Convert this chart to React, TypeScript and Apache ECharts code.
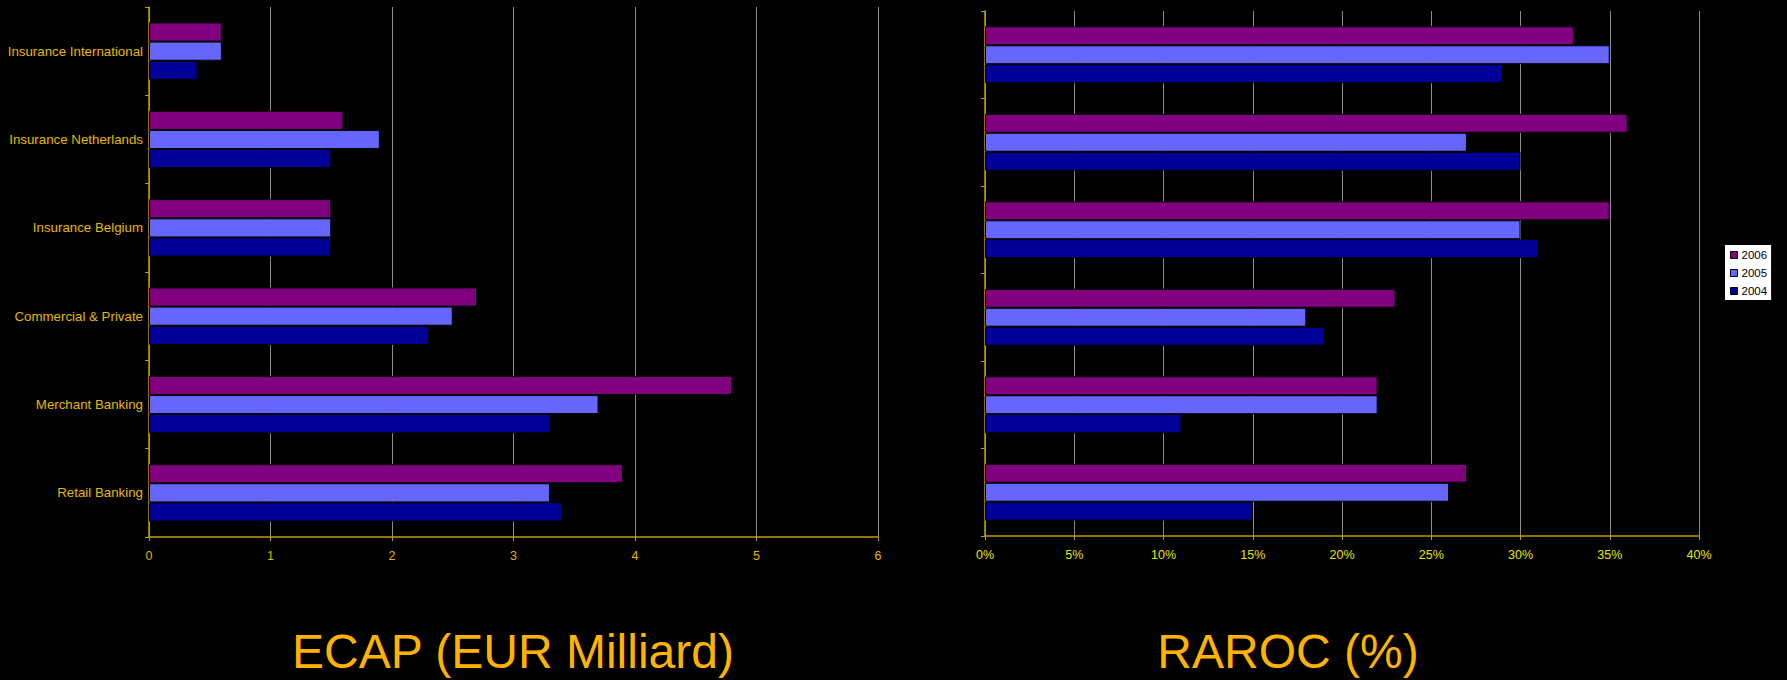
import React, { useEffect, useRef } from "react";
import * as echarts from "echarts";

const categories = [
  "Retail Banking",
  "Merchant Banking",
  "Commercial & Private",
  "Insurance Belgium",
  "Insurance Netherlands",
  "Insurance International",
];
const years = ["2006", "2005", "2004"];
const ecap2006 = [3.9, 4.8, 2.7, 1.5, 1.6, 0.6];
const ecap2005 = [3.3, 3.7, 2.5, 1.5, 1.9, 0.6];
const ecap2004 = [3.4, 3.3, 2.3, 1.5, 1.5, 0.4];
const raroc2006 = [27, 22, 23, 35, 36, 33];
const raroc2005 = [26, 22, 18, 30, 27, 35];
const raroc2004 = [15, 11, 19, 31, 30, 29];
const ecapTicks = { min: 0, max: 6, interval: 1 };
const rarocTicks = { min: 0, max: 40, interval: 5 };
const titles = ["ECAP (EUR Milliard)", "RAROC (%)"];

const colors: Record<string, string> = {
  "2006": "#800080",
  "2005": "#6666FF",
  "2004": "#000099",
};

const FONT = "'Liberation Sans', Arial, sans-serif";
const GOLD_AXIS = "#C09A08";

export default function App() {
  const ref = useRef<HTMLDivElement>(null);

  useEffect(() => {
    document.body.style.margin = "0";
    document.body.style.background = "#000";
    if (!ref.current) return;
    const chart = echarts.init(ref.current, null, { renderer: "svg" });

    const mkSeries = (name: string, data: number[], axisIdx: number) => ({
      name,
      type: "bar",
      xAxisIndex: axisIdx,
      yAxisIndex: axisIdx,
      data,
      barCategoryGap: "35%",
      barGap: "0%",
      itemStyle: { color: colors[name], borderColor: "#000", borderWidth: 1 },
    });

    const valueAxis = (idx: number, ticks: any, labelColor: string, fmt: any) => ({
      type: "value",
      gridIndex: idx,
      min: ticks.min,
      max: ticks.max,
      interval: ticks.interval,
      axisLine: { show: true, lineStyle: { color: GOLD_AXIS, width: 1.5 } },
      axisTick: { show: true, length: 4, lineStyle: { color: GOLD_AXIS } },
      axisLabel: {
        color: labelColor,
        fontSize: 12.5,
        fontFamily: FONT,
        margin: 12,
        formatter: fmt,
      },
      splitLine: { show: true, lineStyle: { color: "#8a8a8a", width: 1 } },
    });

    const catAxis = (idx: number, showLabel: boolean) => ({
      type: "category",
      gridIndex: idx,
      data: categories,
      axisLine: { show: true, lineStyle: { color: GOLD_AXIS, width: 1.5 } },
      axisTick: { show: true, length: 4, lineStyle: { color: GOLD_AXIS } },
      axisLabel: {
        show: showLabel,
        color: "#E6B800",
        fontSize: 13.3,
        fontFamily: FONT,
        margin: 6,
      },
      splitLine: { show: false },
    });

    chart.setOption({
      animation: false,
      backgroundColor: "#000",
      textStyle: { fontFamily: FONT },
      grid: [
        { left: 149, top: 7, width: 729, height: 530 },
        { left: 985, top: 11, width: 714, height: 525 },
      ],
      xAxis: [
        valueAxis(0, ecapTicks, "#E6B400", (v: number) => String(v)),
        valueAxis(1, rarocTicks, "#E6E600", (v: number) => v + "%"),
      ],
      yAxis: [catAxis(0, true), catAxis(1, false)],
      legend: {
        data: years,
        orient: "vertical",
        left: 1725,
        top: 245,
        backgroundColor: "#fff",
        borderColor: "#000",
        borderWidth: 0,
        padding: [4, 4, 3, 5],
        itemWidth: 7,
        itemHeight: 7,
        itemGap: 6,
        icon: "rect",
        itemStyle: { borderColor: "#000", borderWidth: 1 },
        textStyle: { color: "#000", fontSize: 11.5, fontFamily: FONT, padding: [0, 0, 0, -1] },
      },
      series: [
        mkSeries("2006", ecap2006, 0),
        mkSeries("2005", ecap2005, 0),
        mkSeries("2004", ecap2004, 0),
        mkSeries("2006", raroc2006, 1),
        mkSeries("2005", raroc2005, 1),
        mkSeries("2004", raroc2004, 1),
      ],
      graphic: [
        {
          type: "text",
          x: 513,
          y: 651,
          style: {
            text: titles[0],
            fill: "#FFB300",
            fontSize: 48,
            fontFamily: FONT,
            align: "center",
            verticalAlign: "middle",
          },
        },
        {
          type: "text",
          x: 1288,
          y: 651,
          style: {
            text: titles[1],
            fill: "#FFB300",
            fontSize: 48,
            fontFamily: FONT,
            align: "center",
            verticalAlign: "middle",
          },
        },
      ],
    });

    return () => chart.dispose();
  }, []);

  return (
    <div
      ref={ref}
      style={{ position: "absolute", left: 0, top: 0, width: 1787, height: 680, background: "#000" }}
    />
  );
}
